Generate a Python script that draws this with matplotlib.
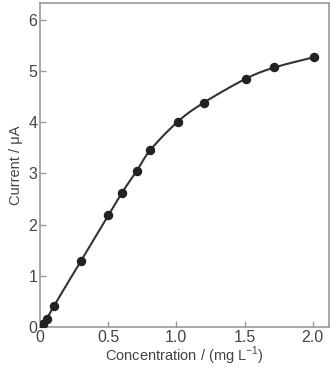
import numpy as np
import matplotlib
matplotlib.use('Agg')
import matplotlib.pyplot as plt

plt.rcParams['font.family'] = ['Liberation Sans', 'DejaVu Sans']

conc = [0.01, 0.02, 0.05, 0.1, 0.3, 0.5, 0.6, 0.71, 0.81, 1.01, 1.2, 1.51, 1.72, 2.01]
current = [0.03, 0.06, 0.16, 0.40, 1.29, 2.18, 2.62, 3.05, 3.46, 4.01, 4.38, 4.85, 5.07, 5.27]
xticks = [0, 0.5, 1.0, 1.5, 2.0]
xticklabels = ['0', '0.5', '1.0', '1.5', '2.0']
yticks = [0, 1, 2, 3, 4, 5, 6]


def smooth(x, y, n=20):
    # catmull-rom through the points
    p = np.column_stack([x, y])
    p = np.vstack([p[0], p, p[-1]])
    out = []
    t = np.linspace(0, 1, n, endpoint=False)[:, None]
    for i in range(1, len(p) - 2):
        p0, p1, p2, p3 = p[i - 1], p[i], p[i + 1], p[i + 2]
        seg = 0.5 * ((2 * p1) + (-p0 + p2) * t + (2 * p0 - 5 * p1 + 4 * p2 - p3) * t ** 2
                     + (-p0 + 3 * p1 - 3 * p2 + p3) * t ** 3)
        out.append(seg)
    out.append(p[-2][None, :])
    out = np.vstack(out)
    return out[:, 0], out[:, 1]


fig = plt.figure(figsize=(3.31, 3.69), dpi=100)
ax = fig.add_axes([0.121, 0.114, 0.873, 0.878])

sx, sy = smooth(conc, current)
ax.plot(sx, sy, color='#333333', lw=1.5, zorder=2)
ax.plot(conc, current, 'o', color='#222222', ms=5.8, zorder=3)

ax.set_xlim(0, 2.12)
ax.set_ylim(0, 6.33)
ax.set_xticks(xticks)
ax.set_xticklabels(xticklabels)
ax.set_yticks(yticks)
ax.tick_params(direction='in', length=4, width=1, color='#999999',
               labelcolor='#444444', labelsize=11.5, pad=2)
for s in ax.spines.values():
    s.set_color('#999999')
    s.set_linewidth(1.2)

ax.set_xlabel('Concentration / (mg L$^{\\mathregular{-1}}$)', fontsize=10.5, color='#444444', labelpad=0)
ax.set_ylabel('Current / μA', fontsize=10.5, color='#444444', labelpad=4)

fig.savefig('out.png', dpi=100)
